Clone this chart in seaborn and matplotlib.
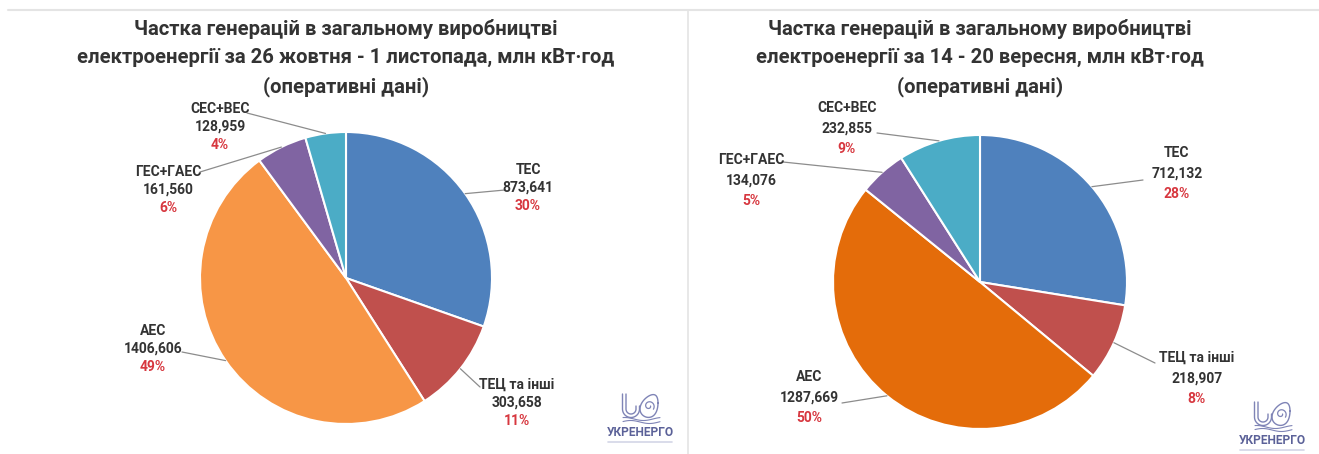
import numpy as np
import matplotlib
matplotlib.use("Agg")
import matplotlib.pyplot as plt
import seaborn as sns

# ==============================
# DATA
# ==============================
sources = ["ТЕС", "ТЕЦ та інші", "АЕС", "ГЕС+ГАЕС", "СЕС+ВЕС"]

# 26 жовтня - 1 листопада, млн кВт·год
oct_values = [873.641, 303.658, 1406.606, 161.560, 128.959]
# 14 - 20 вересня, млн кВт·год
sep_values = [712.132, 218.907, 1287.669, 134.076, 232.855]

titles = [
    "Частка генерацій в загальному виробництві\nелектроенергії за 26 жовтня - 1 листопада, млн кВт·год\n(оперативні дані)",
    "Частка генерацій в загальному виробництві\nелектроенергії за 14 - 20 вересня, млн кВт·год\n(оперативні дані)",
]

# ==============================
# STYLE
# ==============================
sns.set_theme(style="white")
plt.rcParams["font.family"] = ["Roboto", "DejaVu Sans"]

left_colors = sns.color_palette(["#4F81BD", "#C0504D", "#F79646", "#8064A2", "#4BACC6"])
right_colors = sns.color_palette(["#4F81BD", "#C0504D", "#E46C0A", "#8064A2", "#4BACC6"])
TXT = "#333333"
RED = "#D7373F"
LOGO = "#7F84B6"

W, H = 1319, 454
fig = plt.figure(figsize=(W / 100, H / 100), dpi=100)
fig.patch.set_facecolor("white")

# pixel layout of each panel: pie centre, radius, title x, label spots
panels = [
    dict(values=oct_values, colors=left_colors, cx=346, cy=278, r=146, tx=346,
         title=titles[0], step=18,
         labels=[(528, 170), (517, 385), (153, 331), (168, 172), (220, 109)],
         leaders=[(505, 190), (480, 387), (182, 352), (200, 172), (247, 113)],
         logo=(640, 433)),
    dict(values=sep_values, colors=right_colors, cx=980, cy=282, r=147, tx=980,
         title=titles[1], step=20.5,
         labels=[(1177, 153), (1197, 358), (809, 377), (751, 160), (847, 108)],
         leaders=[(1143, 180), (1155, 363), (842, 403), (783, 162), (877, 133)],
         logo=(1272, 441)),
]

over = fig.add_axes([0, 0, 1, 1], zorder=5)
over.set_xlim(0, W)
over.set_ylim(H, 0)
over.axis("off")
over.patch.set_alpha(0)

# frame lines of the screenshot
over.plot([8, W], [10, 10], color="#e4e4e4", lw=1.5)
over.plot([688, 688], [10, H], color="#e4e4e4", lw=1.2)


def draw_logo(gx, gy):
    # rough sketch of the Ukrenergo mark
    t = np.linspace(np.pi, 2 * np.pi, 30)
    for r in (8.5, 5.0):
        ux, uy = gx - 9, gy - 24
        xs = np.concatenate([[ux - r, ux - r], ux + r * np.cos(t), [ux + r]])
        ys = np.concatenate([[gy - 39, uy], uy - r * np.sin(t), [uy - 3]])
        over.plot(xs, ys, color=LOGO, lw=1.0, solid_capstyle="round")
    s = np.linspace(0, 2 * np.pi, 80)
    lx, ly = gx + 9, gy - 27
    over.plot(lx + 9 * np.cos(s) + 2 * np.sin(s) ** 2, ly + 11 * np.sin(s) - 3 * np.cos(s),
              color=LOGO, lw=1.0)
    sp = np.linspace(0, 2.2 * np.pi, 60)
    rr = 1.5 + 1.8 * sp / np.pi
    over.plot(lx + rr * np.cos(sp), ly + rr * np.sin(sp), color=LOGO, lw=0.9)
    w = np.linspace(gx - 17, gx + 20, 40)
    over.plot(w, gy - 11 + 1.5 * np.sin((w - gx) / 6), color=LOGO, lw=0.8)
    over.plot(w, gy - 14 + 1.5 * np.sin((w - gx) / 6 + 1), color=LOGO, lw=0.8)
    over.text(gx, gy, "УКРЕНЕРГО", ha="center", va="center",
              color="#5B6198", fontsize=8.6, fontweight="bold")
    over.plot([gx - 32, gx + 32], [gy + 9, gy + 9], color="#d3d5e6", lw=1.2)


for p in panels:
    cx, cy, r = p["cx"], p["cy"], p["r"]
    ax = fig.add_axes([(cx - r) / W, 1 - (cy + r) / H, 2 * r / W, 2 * r / H])
    wedges, _ = ax.pie(p["values"], colors=p["colors"], startangle=90,
                       counterclock=False,
                       wedgeprops=dict(edgecolor="white", linewidth=1.5))
    ax.set_xlim(-1, 1)
    ax.set_ylim(-1, 1)

    total = sum(p["values"])
    for name, val, w, (lx, ly), lead in zip(sources, p["values"], wedges,
                                            p["labels"], p["leaders"]):
        pct = round(val / total * 100)
        vtxt = f"{val:.3f}".replace(".", ",")
        over.text(lx, ly, name, ha="center", va="center", color=TXT,
                  fontsize=10, fontweight="bold")
        over.text(lx, ly + p["step"], vtxt, ha="center", va="center",
                  color=TXT, fontsize=10, fontweight="bold")
        over.text(lx, ly + 2 * p["step"], f"{pct}%", ha="center", va="center",
                  color=RED, fontsize=10, fontweight="bold")
        if lead is not None:
            mid = np.deg2rad((w.theta1 + w.theta2) / 2)
            ex, ey = cx + r * np.cos(mid), cy - r * np.sin(mid)
            over.plot([ex, lead[0]], [ey, lead[1]], color="#8c8c8c", lw=0.9)

    over.text(p["tx"], 58, p["title"], ha="center", va="center", color=TXT,
              fontsize=14.6, fontweight="bold", linespacing=1.6)

    draw_logo(*p["logo"])

fig.savefig("out.png", dpi=100, facecolor="white")
